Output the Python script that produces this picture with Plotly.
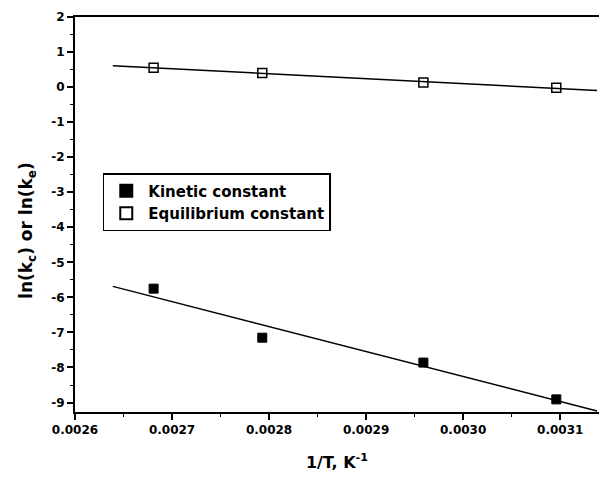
import numpy as np
import plotly.graph_objects as go

inv_T = [0.002681, 0.002793, 0.002959, 0.003096]
ln_kc = [-5.75, -7.15, -7.86, -8.91]
ln_ke = [0.55, 0.40, 0.13, -0.02]
fit_x = [0.002639, 0.003138]

y_ticks = list(range(-9, 3))
y_ticktext = [str(v) for v in y_ticks]
x_ticks = [0.0026, 0.0027, 0.0028, 0.0029, 0.0030, 0.0031]
x_ticktext = ["0.0026", "0.0027", "0.0028", "0.0029", "0.0030", "0.0031"]

def fit(xs, ys, xe):
    p = np.polyfit(xs, ys, 1)
    return [float(np.polyval(p, v)) for v in xe]

fig = go.Figure()
fig.add_trace(go.Scatter(x=fit_x, y=fit(inv_T, ln_kc, fit_x), mode="lines",
                         line=dict(color="black", width=1.5), showlegend=False))
fig.add_trace(go.Scatter(x=fit_x, y=fit(inv_T, ln_ke, fit_x), mode="lines",
                         line=dict(color="black", width=1.5), showlegend=False))
fig.add_trace(go.Scatter(x=inv_T, y=ln_kc, mode="markers", name="Kinetic constant",
                         marker=dict(symbol="square", size=9, color="black",
                                     line=dict(color="black", width=1))))
fig.add_trace(go.Scatter(x=inv_T, y=ln_ke, mode="markers", name="Equilibrium constant",
                         marker=dict(symbol="square-open", size=9, color="black",
                                     line=dict(color="black", width=1.5))))

font_family = "DejaVu Sans, Liberation Sans, sans-serif"
fig.update_layout(
    width=602, height=486,
    margin=dict(l=75, r=3, t=17, b=74),
    paper_bgcolor="white", plot_bgcolor="white",
    font=dict(family=font_family, color="black"),
    legend=dict(x=0.053, y=0.605, xanchor="left", yanchor="top",
                bordercolor="black", borderwidth=1.5, bgcolor="white",
                font=dict(size=15, family=font_family, weight="bold"),
                tracegroupgap=0, itemsizing="constant", itemwidth=34),
    xaxis=dict(range=[0.0026, 0.00314], tickvals=x_ticks, ticktext=x_ticktext,
               showline=True, linecolor="black", linewidth=2, mirror=True,
               ticks="outside", ticklen=6, tickwidth=1.5, tickcolor="black",
               minor=dict(dtick=0.00005, ticks="outside", ticklen=3, tickcolor="black", tickwidth=1),
               showgrid=False, zeroline=False,
               tickfont=dict(size=12, weight="bold"),
               title=dict(text="1/T, K<sup>-1</sup>", font=dict(size=16, weight="bold"), standoff=20)),
    yaxis=dict(range=[-9.27, 2], tickvals=y_ticks, ticktext=y_ticktext,
               showline=True, linecolor="black", linewidth=2, mirror=False,
               ticks="outside", ticklen=6, tickwidth=1.5, tickcolor="black",
               minor=dict(dtick=0.5, ticks="outside", ticklen=3, tickcolor="black", tickwidth=1),
               showgrid=False, zeroline=False,
               tickfont=dict(size=12, weight="bold")),
    annotations=[dict(text="ln(k<sub>c</sub>) or ln(k<sub>e</sub>)", xref="paper", yref="paper",
                      x=-0.0897, y=0.461, xanchor="center", yanchor="middle",
                      textangle=-90, showarrow=False,
                      font=dict(size=17, family=font_family, weight="bold"))],
)

fig.write_html("out.html")
